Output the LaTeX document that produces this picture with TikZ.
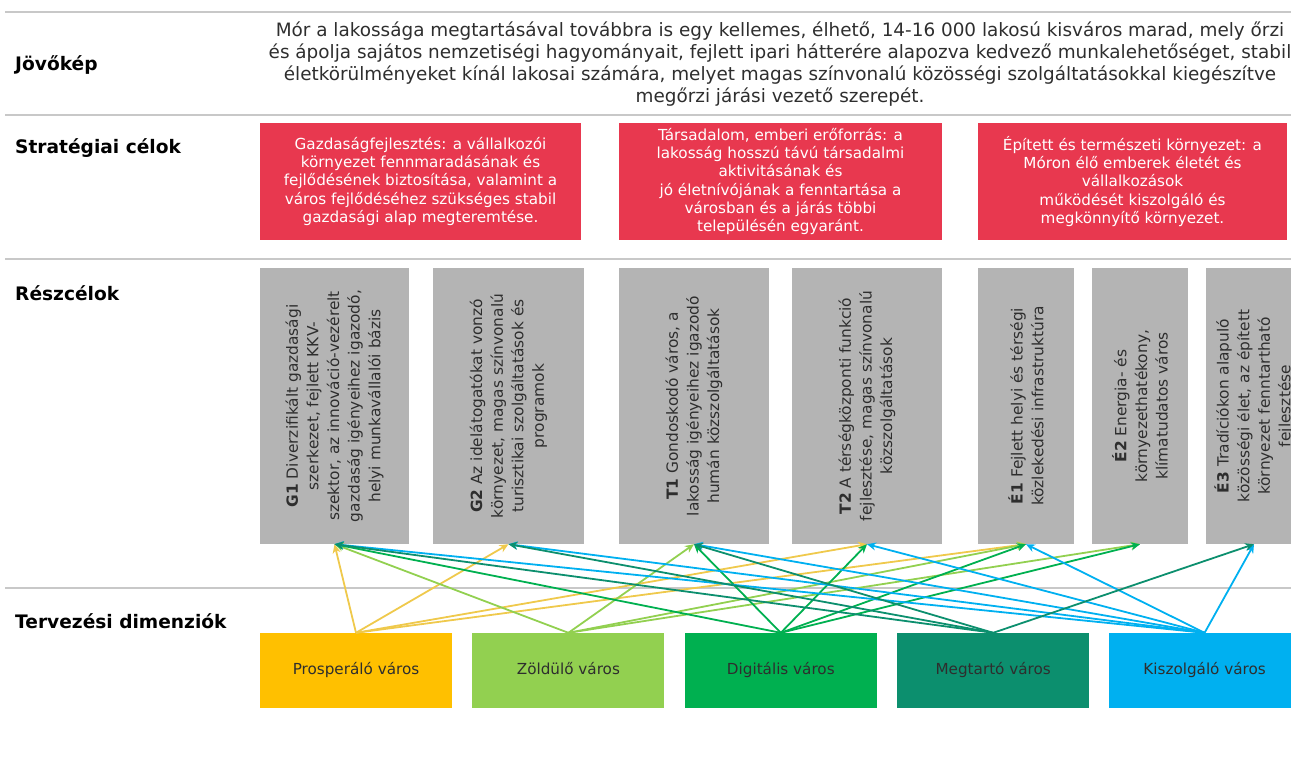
\documentclass[tikz,border=0pt]{standalone}
\usepackage{fontspec}
\setmainfont{DejaVu Sans}
\usetikzlibrary{positioning,arrows.meta}
\definecolor{linegray}{HTML}{C8C8C8}
\definecolor{goalred}{HTML}{E8384F}
\definecolor{subgray}{HTML}{B4B4B4}
\definecolor{textgray}{HTML}{2E2E2E}
\definecolor{prospfill}{HTML}{FFC000}
\definecolor{prospline}{HTML}{EFC94C}
\definecolor{zoldcol}{HTML}{92D050}
\definecolor{digitcol}{HTML}{00B050}
\definecolor{megtcol}{HTML}{0C8F6E}
\definecolor{kiszcol}{HTML}{00B0F0}
\tikzstyle{arrow} = [->,>={Stealth[length=9pt,width=8pt]},line width=1.8pt]
\tikzstyle{sepline} = [linegray,line width=2pt]
\tikzstyle{rowlabel} = [anchor=west, inner sep=0pt, font=\bfseries\fontsize{18.6}{22}\selectfont]
\tikzstyle{goal} = [rectangle, fill=goalred, text=white, align=center, inner sep=0pt,
minimum height=117pt, font=\fontsize{15.2}{18.3}\selectfont]
\tikzstyle{subgoal} = [rectangle, fill=subgray, text=textgray, align=center, inner sep=0pt,
rotate=90, minimum width=276pt, font=\fontsize{15.4}{20.6}\selectfont]
\tikzstyle{dimension} = [rectangle, text=textgray, inner sep=0pt, text height=11pt, text depth=3pt,
minimum width=192pt, minimum height=75pt, font=\fontsize{15.2}{18}\selectfont]

\begin{document}
\begin{tikzpicture}[x=1pt, y=-1pt]
\useasboundingbox (0,0) rectangle (1291,778);

% Separator lines
\draw [sepline] (5,12) -- (1291,12);
\draw [sepline] (5,115) -- (1291,115);
\draw [sepline] (5,259) -- (1291,259);
\draw [sepline] (5,588) -- (1291,588);

% Row labels
\node (jovokep) [rowlabel] at (15,65) {Jövőkép};
\node (strategia) [rowlabel] at (15,148) {Stratégiai célok};
\node (reszcel) [rowlabel] at (15,293) {Részcélok};
\node (tervezes) [rowlabel] at (15,621) {Tervezési dimenziók};

% Vision
\node (vision) [align=center, text=textgray, inner sep=0pt, font=\fontsize{18.4}{22}\selectfont] at (780,64)
{Mór a lakossága megtartásával továbbra is egy kellemes, élhető, 14-16 000 lakosú kisváros marad, mely őrzi\\
és ápolja sajátos nemzetiségi hagyományait, fejlett ipari hátterére alapozva kedvező munkalehetőséget, stabil\\
életkörülményeket kínál lakosai számára, melyet magas színvonalú közösségi szolgáltatásokkal kiegészítve\\
megőrzi járási vezető szerepét.};

% Strategic goals
\node (gazdasag) [goal, minimum width=321pt] at (420.5,181.5)
{Gazdaságfejlesztés: a vállalkozói\\ környezet fennmaradásának és\\ fejlődésének biztosítása, valamint a\\ város fejlődéséhez szükséges stabil\\ gazdasági alap megteremtése.};
\node (tarsadalom) [goal, minimum width=323pt] at (780.5,181.5)
{Társadalom, emberi erőforrás: a\\ lakosság hosszú távú társadalmi\\ aktivitásának és\\ jó életnívójának a fenntartása a\\ városban és a járás többi\\ településén egyaránt.};
\node (kornyezet) [goal, minimum width=309pt] at (1132.5,181.5)
{Épített és természeti környezet: a\\ Móron élő emberek életét és\\ vállalkozások\\ működését kiszolgáló és\\ megkönnyítő környezet.};

% Sub-goals
\node (g1) [subgoal, minimum height=149pt] at (334.5,406)
{\textbf{G1} Diverzifikált gazdasági\\ szerkezet, fejlett KKV-\\ szektor, az innováció-vezérelt\\ gazdaság igényeihez igazodó,\\ helyi munkavállalói bázis};
\node (g2) [subgoal, minimum height=151pt] at (508.5,406)
{\textbf{G2} Az idelátogatókat vonzó\\ környezet, magas színvonalú\\ turisztikai szolgáltatások és\\ programok};
\node (t1) [subgoal, minimum height=150pt] at (694,406)
{\textbf{T1} Gondoskodó város, a\\ lakosság igényeihez igazodó\\ humán közszolgáltatások};
\node (t2) [subgoal, minimum height=150pt] at (867,406)
{\textbf{T2} A térségközponti funkció\\ fejlesztése, magas színvonalú\\ közszolgáltatások};
\node (e1) [subgoal, minimum height=96pt] at (1026,406)
{\textbf{É1} Fejlett helyi és térségi\\ közlekedési infrastruktúra};
\node (e2) [subgoal, minimum height=96pt] at (1140,406)
{\textbf{É2} Energia- és\\ környezethatékony,\\ klímatudatos város};
\node (e3) [subgoal, minimum height=96pt] at (1254,406)
{\textbf{É3} Tradíciókon alapuló\\ közösségi élet, az épített\\ környezet fenntartható\\ fejlesztése};

% Planning dimensions
\node (prosp) [dimension, fill=prospfill] at (356,670.5) {Prosperáló város};
\node (zold) [dimension, fill=zoldcol, right=20pt of prosp] {Zöldülő város};
\node (digit) [dimension, fill=digitcol, right=20pt of zold] {Digitális város};
\node (megt) [dimension, fill=megtcol, right=20pt of digit] {Megtartó város};
\node (kisz) [dimension, fill=kiszcol, right=19pt of megt] {Kiszolgáló város};

% Draw arrows
\draw [arrow, prospline] (prosp.north) -- (g1.west);
\draw [arrow, prospline] (prosp.north) -- (g2.west);
\draw [arrow, prospline] (prosp.north) -- (t2.west);
\draw [arrow, prospline] (prosp.north) -- (e1.west);
\draw [arrow, zoldcol] (zold.north) -- (g1.west);
\draw [arrow, zoldcol] (zold.north) -- (t1.west);
\draw [arrow, zoldcol] (zold.north) -- (e1.west);
\draw [arrow, zoldcol] (zold.north) -- (e2.west);
\draw [arrow, digitcol] (digit.north) -- (g1.west);
\draw [arrow, digitcol] (digit.north) -- (t1.west);
\draw [arrow, digitcol] (digit.north) -- (t2.west);
\draw [arrow, digitcol] (digit.north) -- (e1.west);
\draw [arrow, digitcol] (digit.north) -- (e2.west);
\draw [arrow, kiszcol] (kisz.north) -- (g1.west);
\draw [arrow, kiszcol] (kisz.north) -- (g2.west);
\draw [arrow, kiszcol] (kisz.north) -- (t1.west);
\draw [arrow, kiszcol] (kisz.north) -- (t2.west);
\draw [arrow, kiszcol] (kisz.north) -- (e1.west);
\draw [arrow, kiszcol] (kisz.north) -- (e3.west);
\draw [arrow, megtcol] (megt.north) -- (g1.west);
\draw [arrow, megtcol] (megt.north) -- (g2.west);
\draw [arrow, megtcol] (megt.north) -- (t1.west);
\draw [arrow, megtcol] (megt.north) -- (e3.west);

\end{tikzpicture}
\end{document}
